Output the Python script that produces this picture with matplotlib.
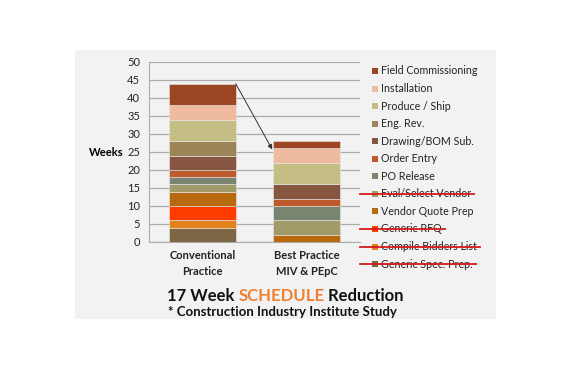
import matplotlib
matplotlib.use("Agg")
import matplotlib.pyplot as plt
from matplotlib.patches import Rectangle
from matplotlib.lines import Line2D

plt.rcParams['font.family'] = ['Lato', 'DejaVu Sans']

# data
categories = ["Conventional\nPractice", "Best Practice\nMIV & PEpC"]
stages = ["Generic Spec. Prep.", "Compile Bidders List", "Generic RFQ",
          "Vendor Quote Prep", "Eval/Select Vendor", "PO Release",
          "Order Entry", "Drawing/BOM Sub.", "Eng. Rev.",
          "Produce / Ship", "Installation", "Field Commissioning"]
conventional = [4, 2, 4, 4, 2, 2, 2, 4, 4, 6, 4, 6]
best = [0, 0, 0, 2, 4, 4, 2, 4, 0, 6, 4, 2]
colors = ["#7D6646", "#E2821A", "#FF3C00", "#B8690E", "#A19A69", "#7A8571",
          "#BF5A2C", "#875640", "#9C8358", "#C4BD84", "#EEBBA0", "#9B4522"]
struck = ["Eval/Select Vendor", "Generic RFQ", "Compile Bidders List",
          "Generic Spec. Prep."]
panel_bg = "#F2F2F2"

fig = plt.figure(figsize=(5.7, 3.7), dpi=100)
W, H = 570, 370
def fx(px): return px / W
def fy(py): return 1 - py / H

# gray panel behind everything
fig.patches.append(Rectangle((fx(75), fy(319)), fx(496) - fx(75), fy(50) - fy(319),
                             transform=fig.transFigure, facecolor=panel_bg,
                             edgecolor='none', zorder=-10))

ax = fig.add_axes([fx(149), fy(242), fx(360) - fx(149), fy(62) - fy(242)])
ax.set_zorder(1)
ax.set_facecolor(panel_bg)

x = [0, 1]
bottoms = [0, 0]
for name, c, b_val, col in zip(stages, conventional, best, colors):
    vals = [c, b_val]
    ax.bar(x, vals, width=0.64, bottom=bottoms, color=col,
           edgecolor='#E8E8E8', linewidth=0.4, zorder=3)
    bottoms = [bottoms[0] + c, bottoms[1] + b_val]

ax.set_xlim(-0.51, 1.51)
ax.set_ylim(0, 50)
ax.set_yticks(range(0, 51, 5))
ax.yaxis.grid(True, color='#ABABAB', linewidth=0.9, zorder=0)
ax.set_axisbelow(True)
for s in ['top', 'right']:
    ax.spines[s].set_visible(False)
ax.spines['left'].set_color('#ABABAB')
ax.spines['bottom'].set_color('#ABABAB')
ax.tick_params(axis='both', length=0, labelsize=8, colors='#222222')
ax.tick_params(axis='y', pad=6.5)
ax.set_xticks(x)
ax.set_xticklabels(categories, fontweight='bold', fontsize=8, linespacing=1.55)
ax.tick_params(axis='x', pad=6)
ax.set_ylabel("Weeks", rotation=0, fontweight='bold', fontsize=8,
              va='center', ha='right')
ax.yaxis.set_label_coords(-0.123, 0.5)

# arrow from top of conventional to top of best practice
ax.annotate("", xy=(0.67, bottoms[1] - 2.3), xytext=(0.32, bottoms[0]),
            arrowprops=dict(arrowstyle='-|>', color='#333333', lw=0.7,
                            mutation_scale=7, shrinkA=0, shrinkB=0), zorder=5)

# legend, drawn manually (top entry first)
y0, dy = 71, 17.55
texts = []
for i, (name, col) in enumerate(zip(stages[::-1], colors[::-1])):
    yy = y0 + i * dy
    fig.patches.append(Rectangle((fx(372), fy(yy + 3)), fx(378) - fx(372), fy(yy - 3) - fy(yy + 3),
                                 transform=fig.transFigure, facecolor=col,
                                 edgecolor='none', zorder=2))
    t = fig.text(fx(381), fy(yy), name, fontsize=7.7, va='center', ha='left',
                 color='#222222')
    texts.append(t)

fig.canvas.draw()
r = fig.canvas.get_renderer()
for t in texts:
    if t.get_text() in struck:
        bb = t.get_window_extent(r)
        yline = (bb.y0 + bb.y1) / 2 / H
        fig.lines.append(Line2D([fx(360), bb.x1 / W + fx(3)], [yline, yline],
                                transform=fig.transFigure, color='#D7191C',
                                lw=1.3, zorder=4))

# title in three colored pieces
title_parts = [("17 Week ", '#111111'), ("SCHEDULE", '#F07F2E'), (" Reduction", '#111111')]
xpos = fx(167)
for s, col in title_parts:
    t = fig.text(xpos, fy(296), s, fontsize=12, fontweight='bold', color=col,
                 ha='left', va='center')
    fig.canvas.draw()
    bb = t.get_window_extent(fig.canvas.get_renderer())
    xpos = bb.x1 / W
fig.text(fx(168), fy(312), "* Construction Industry Institute Study", fontsize=9.5,
         fontweight='bold', color='#111111', ha='left', va='center')

fig.savefig("out.png", dpi=100)
